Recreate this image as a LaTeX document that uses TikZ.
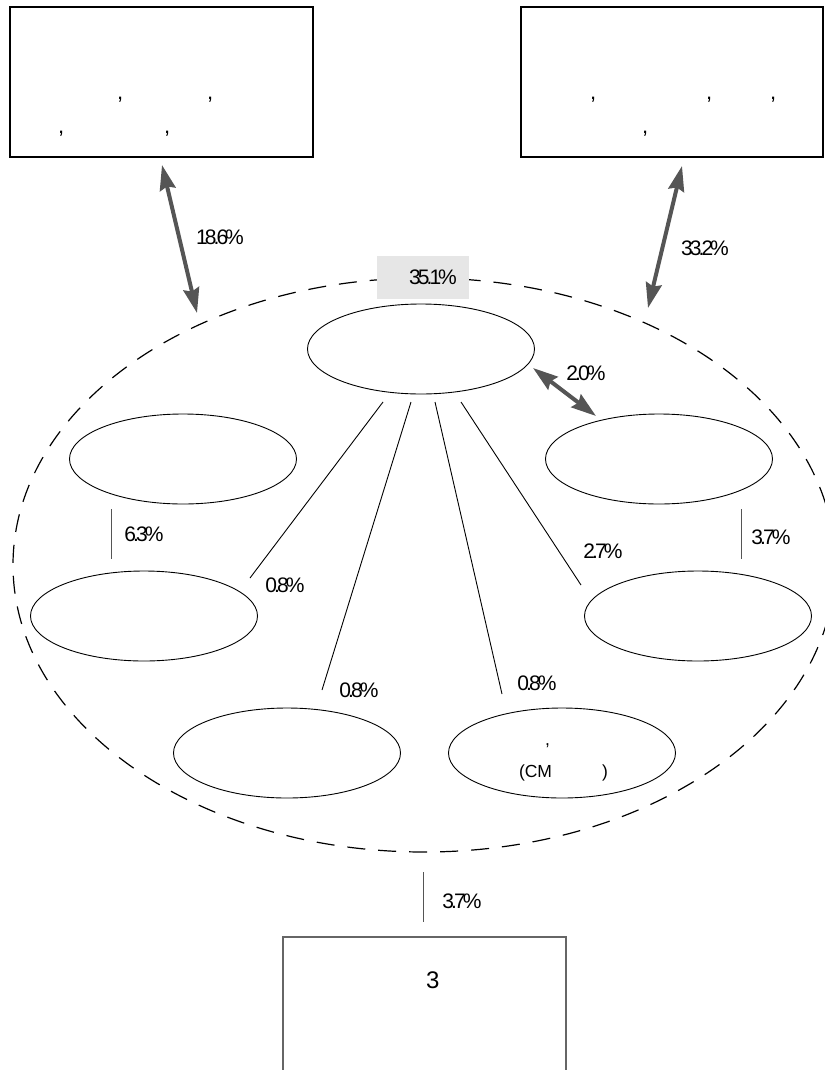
\documentclass[tikz,border=0pt]{standalone}
\usepackage{fontspec}
\setmainfont{Liberation Sans}
\newfontfamily\pctfont[LetterSpace=-14]{Liberation Sans}
\usetikzlibrary{arrows.meta,shapes.geometric}
\definecolor{Dark}{HTML}{555555}
\definecolor{Shade}{HTML}{E6E6E6}
\definecolor{Frame}{HTML}{666666}
\newcommand\commaat[1]{\makebox[0pt][l]{\hspace*{#1},}}

\begin{document}
\begin{tikzpicture}[x=1pt,y=-1pt,
    box/.style={draw,line width=1.2pt,inner sep=0pt,font=\fontsize{22}{34}\selectfont},
    unit/.style={ellipse,draw,line width=0.9pt,minimum width=227pt,minimum height=90pt,
      inner sep=0pt,font=\fontsize{17.5}{32}\selectfont},
    pct/.style={inner sep=0pt,font=\pctfont\fontsize{21}{24}\selectfont},
    link/.style={line width=0.9pt},
    share/.style={{Stealth[length=25pt,width=16pt,inset=3pt]}-{Stealth[length=25pt,width=16pt,inset=3pt]},
      line width=4pt,color=Dark}
  ]
  \useasboundingbox (0,0) rectangle (824,1070);
  \node[ellipse,draw,line width=1.2pt,dash pattern=on 18pt off 13pt,
    minimum width=822pt,minimum height=574pt] (cluster) at (424,565) {};
  \node[pct,fill=Shade,minimum width=92pt,minimum height=43pt] (total) at (423,277.5) {\hspace*{20pt}35.1\%};
  \node[box] (boxL) at (161.5,82)
    {\parbox[c][150pt][t]{303pt}{\rule{0pt}{93pt}\commaat{107pt}\commaat{197pt}\\\commaat{48pt}\commaat{154pt}}};
  \node[box] (boxR) at (672,82)
    {\parbox[c][150pt][t]{302pt}{\rule{0pt}{93pt}\commaat{69pt}\commaat{185pt}\commaat{249pt}\\\commaat{121pt}}};
  \node[box,draw=Frame,font=\fontsize{24}{28}\selectfont] (boxB) at (424.5,1012)
    {\parbox[c][150pt][t]{283pt}{\rule{0pt}{51pt}\hspace*{143pt}3}};
  \node[unit] (core) at (421,349) {};
  \node[unit] (elA) at (183,459) {};
  \node[unit] (elB) at (659,459) {};
  \node[unit] (elC) at (144,616) {};
  \node[unit] (elD) at (698,616) {};
  \node[unit] (elE) at (287,753) {};
  \node[unit] (elF) at (562,753)
    {\parbox[c][60pt][t]{88pt}{\rule{0pt}{22pt}\hspace*{27pt},\\\hspace*{1pt}(CM\hspace*{50pt})}};
  \coordinate (tL) at (162,165);
  \coordinate (hL) at (197,313);
  \coordinate (tR) at (682,166);
  \coordinate (hR) at (648,308);
  \coordinate (tC) at (533,368);
  \coordinate (hC) at (596,416);
  \draw[share] (tL) -- (hL);
  \draw[share] (tR) -- (hR);
  \draw[share] (tC) -- (hC);
  \coordinate (s1) at (383,402);
  \coordinate (s2) at (411,402);
  \coordinate (s3) at (435,402);
  \coordinate (s4) at (461,402);
  \coordinate (e1) at (250,578);
  \coordinate (e2) at (322,690);
  \coordinate (e3) at (502,694);
  \coordinate (e4) at (581,585);
  \draw[link] (s1) -- (e1);
  \draw[link] (s2) -- (e2);
  \draw[link] (s3) -- (e3);
  \draw[link] (s4) -- (e4);
  \coordinate (vA) at (111,509);
  \coordinate (vC) at (111,559);
  \coordinate (vB) at (741,509);
  \coordinate (vD) at (741,559);
  \coordinate (vT) at (423,872);
  \coordinate (vE) at (423,922);
  \draw[link,color=Dark] (vA) -- (vC);
  \draw[link,color=Dark] (vB) -- (vD);
  \draw[link,color=Dark] (vT) -- (vE);
  \node[pct] (pL) at (220,237) {18.6\%};
  \node[pct] (pR) at (705,248) {33.2\%};
  \node[pct] (pC) at (586,373) {2.0\%};
  \node[pct] (pAC) at (144,534) {6.3\%};
  \node[pct] (pBD) at (771,537) {3.7\%};
  \node[pct] (p1) at (285,585) {0.8\%};
  \node[pct] (p2) at (359,690) {0.8\%};
  \node[pct] (p3) at (537,683) {0.8\%};
  \node[pct] (p4) at (603,551) {2.7\%};
  \node[pct] (pB) at (462,901) {3.7\%};
\end{tikzpicture}
\end{document}
